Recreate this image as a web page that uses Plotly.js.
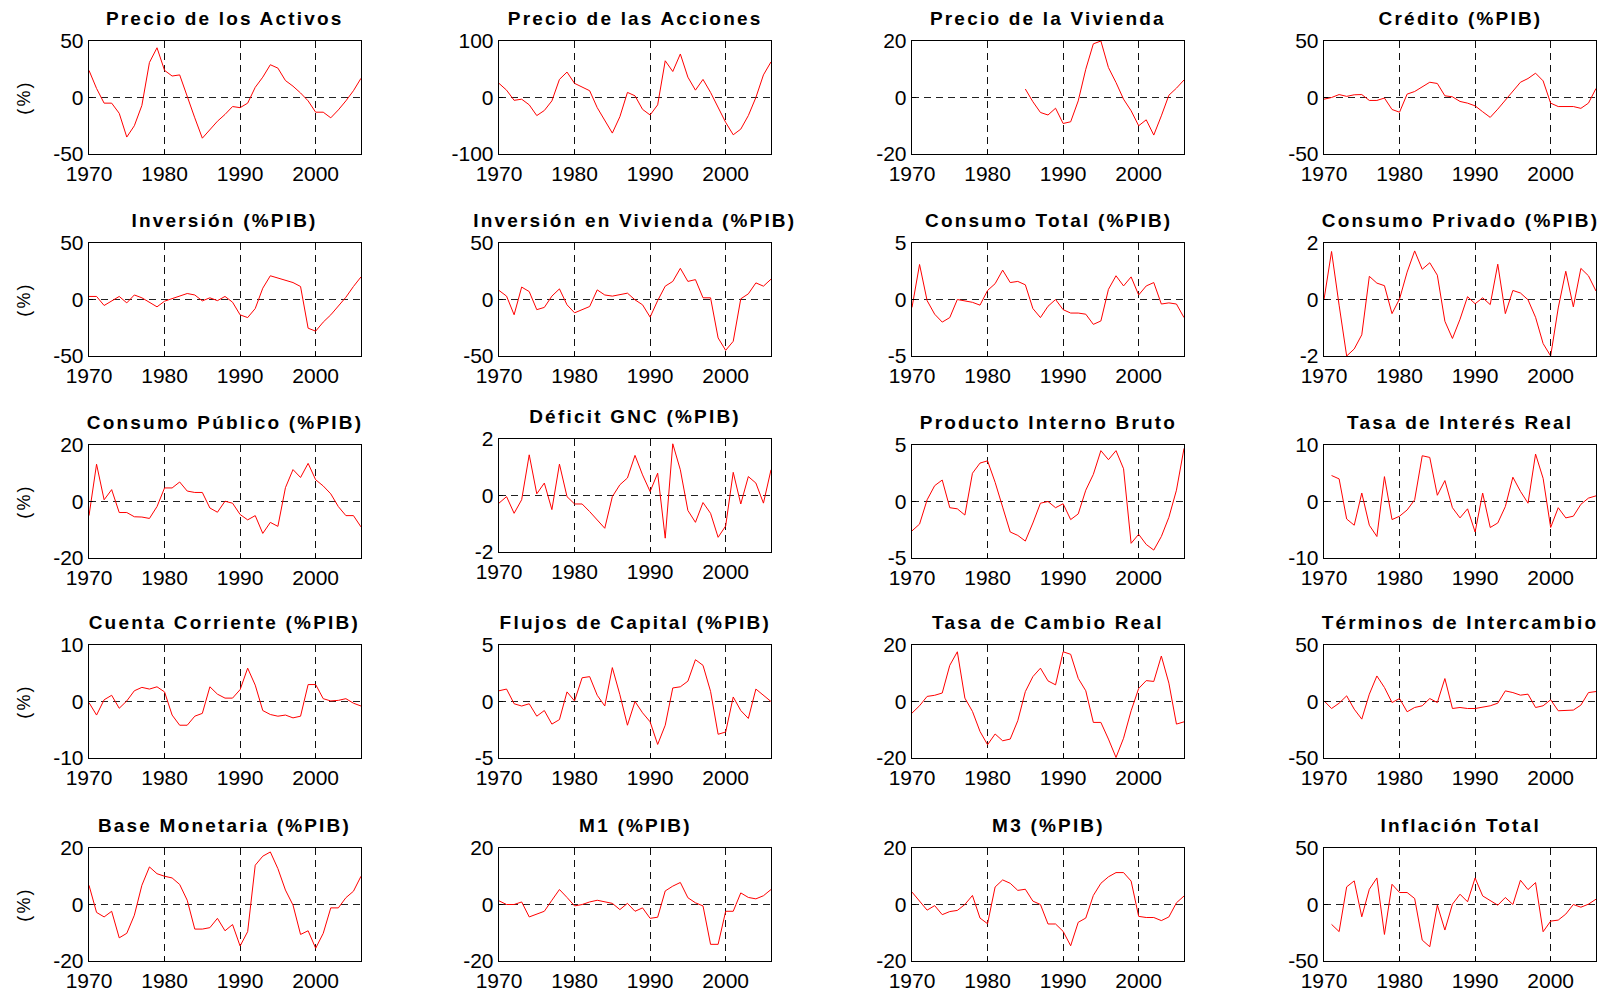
<!DOCTYPE html>
<html>
<head>
<meta charset="utf-8">
<script src="https://cdn.plot.ly/plotly-3.0.1.min.js"></script>
<style>
html,body{margin:0;padding:0;background:#fff;}
#chart{width:1610px;height:990px;}
#chart .annotation-text{letter-spacing:2.2px;}
</style>
</head>
<body>
<div id="chart"></div>
<script>
const years = [1970,1971,1972,1973,1974,1975,1976,1977,1978,1979,1980,1981,1982,1983,1984,1985,1986,1987,1988,1989,1990,1991,1992,1993,1994,1995,1996,1997,1998,1999,2000,2001,2002,2003,2004,2005,2006];

const precioActivos = [24,8,-5,-5,-14,-35,-25,-7,31,44, 24,19,20,0,-18,-36,-28,-21,-15,-8, -9,-5,9,18,29,26,15,10,4,-3, -13,-13,-18,-11,-3,6,17];
const precioAcciones = [25,13,-5,-3,-13,-32,-23,-6,32,45, 25,18,12,-18,-41,-63,-34,9,3,-21, -31,-13,65,46,77,36,13,32,9,-18, -44,-66,-56,-32,0,40,63];
const precioVivienda = [null,null,null,null,null,null,null,null,null,null, null,null,null,null,null,3,-1.5,-5.3,-6.2,-3.8, -9.2,-8.6,-1.2,10,19,20,10.6,5.3,-0.6,-4.7, -10,-7.9,-13.3,-6.5,0.8,3.3,6.2];
const credito = [-1.5,0,2.6,1,2.4,2.6,-2.6,-2.6,-0.5,-10.6, -13,3,5.3,9.4,13.5,12.4,1.5,0.6,-3.5,-5, -7.4,-12.6,-17.6,-10.3,-2.4,6.5,13.5,16.8,21.5,14.7, -5,-8,-8,-8,-9.6,-5,8];
const inversion = [2.7,2.7,-5.3,-1.5,2.7,-3,4,1.5,-2.7,-6.5, -1.5,0.6,3,5.3,4,-1.2,1.5,-1,2.7,-2.4, -13.6,-16,-8,10,21,19,17.5,15,11.5,-25.4, -28,-20,-13.6,-6,2,11.5,20];
const invVivienda = [8,3,-13.5,11,7,-9,-7,3,9.4,-4.7, -11.8,-9,-6.2,8.5,4,3,4,5.6,-0.3,-4.7, -15.6,-1,11.8,16,27.6,16,17.6,1.5,1.5,-34, -45,-37,0.6,5,14.7,11.8,18];
const consumoTotal = [-0.7,3.1,-0.1,-1.3,-2,-1.6,0,-0.1,-0.25,-0.5, 0.8,1.4,2.6,1.5,1.6,1.3,-0.8,-1.6,-0.6,0, -0.9,-1.2,-1.2,-1.3,-2.2,-1.9,0.9,2.1,1.2,2.0, 0.4,1.2,1.5,-0.4,-0.3,-0.4,-1.6];
const consumoPrivado = [0,1.7,-0.2,-2,-1.75,-1.25,0.82,0.58,0.49,-0.5, 0.02,0.97,1.72,1.07,1.3,0.86,-0.77,-1.38,-0.7,0.1, -0.15,0.06,-0.18,1.25,-0.5,0.32,0.23,-0.01,-0.63,-1.56, -2,-0.3,1.0,-0.26,1.1,0.84,0.3];
const consumoPublico = [-5,13.2,0.6,4.2,-3.9,-3.9,-5.4,-5.5,-6,-1.8, 4.8,4.8,6.9,3.7,3.2,3.2,-2.3,-3.8,0.1,-0.6, -4.6,-6.5,-5,-11.3,-7.4,-8.8,4.9,11.3,8.5,13.5, 7.7,5.5,2.7,-1.8,-5,-5,-9];
const deficitGNC = [-0.27,-0.04,-0.63,-0.15,1.44,0.06,0.44,-0.5,1.11,-0.04, -0.3,-0.3,-0.57,-0.86,-1.16,-0.04,0.38,0.62,1.42,0.73, 0.14,0.79,-1.51,1.83,0.91,-0.53,-0.95,-0.25,-0.63,-1.48, -1.08,0.82,-0.3,0.67,0.44,-0.27,0.91];
const pib = [-2.6,-2.0,0.15,1.4,1.9,-0.55,-0.65,-1.2,2.5,3.4, 3.6,1.7,-0.5,-2.7,-3.0,-3.5,-1.9,-0.15,0,-0.55, -0.2,-1.6,-1.1,1.0,2.4,4.5,3.7,4.5,2.9,-3.7, -2.9,-3.8,-4.3,-3.1,-1.4,1.0,4.7];
const tasaInteres = [null,4.6,4.0,-3.1,-4.2,1.5,-4.2,-6.2,4.4,-3.2, -2.6,-1.5,0.3,8.1,7.8,1.1,3.7,-1.1,-2.9,-1.3, -5.4,1.5,-4.6,-3.8,-0.9,4.3,1.8,-0.3,8.4,4.1, -4.6,-1.1,-2.9,-2.6,-0.5,0.6,1.0];
const cuentaCorriente = [-0.2,-2.4,0.3,1.1,-1.2,0.1,1.9,2.5,2.2,2.6, 1.7,-2.4,-4.2,-4.2,-2.6,-2.1,2.6,1.3,0.6,0.6, 2.1,5.9,2.9,-1.6,-2.3,-2.6,-2.4,-2.9,-2.6,3.0, 3.0,0.5,0.1,0.2,0.5,-0.3,-0.8];
const flujosCapital = [0.95,1.1,-0.2,-0.4,-0.2,-1.3,-0.8,-2.0,-1.6,0.85, 0.05,2.1,2.2,0.55,-0.4,3.0,0.6,-2.1,0,-1.0, -1.8,-3.8,-2.1,1.2,1.3,1.8,3.7,3.2,0.9,-2.9, -2.7,0.4,-0.8,-1.5,1.1,0.55,0];
const tasaCambio = [-4.1,-1.5,1.8,2.2,3.0,12.8,17.6,1.2,-3.5,-10.6, -15.3,-11.5,-13.9,-13.3,-6.8,3.5,8.8,11.8,7.3,5.9, 17.6,16.7,8.2,3.8,-7.4,-7.4,-13.3,-19.8,-13,-3.3, 4.6,7.4,7.1,16.1,6.5,-8.0,-7.2];
const terminos = [0.6,-6.2,-1.5,5,-6.8,-15.6,6.5,22.6,12.4,-0.9, 2.6,-9.1,-5.3,-3.8,2.6,-0.9,20.3,-6.2,-5.3,-6.2, -6.2,-5.3,-3.8,-1.5,9.4,7.9,5.6,6.5,-5.3,-3.8, 1.5,-8.2,-8.2,-7.6,-3.2,7.9,8.8];
const baseMonetaria = [6.8,-2.8,-4.4,-2.4,-11.8,-10.2,-3.8,6.8,13.3,10.9, 10,9.4,7.1,1.5,-8.7,-8.7,-8.2,-4.9,-9.3,-7.1, -14.7,-9.6,13.9,17.1,18.6,12.7,5.1,-0.2,-10.6,-9.3, -15.5,-10.2,-1.2,-1.2,2.4,4.7,10];
const m1 = [1.3,0,0,0.9,-4.4,-3.4,-2.4,1.5,5.3,2.5, -0.5,0,0.9,1.5,0.9,0.4,-1.8,0.4,-2.4,-1.2, -4.9,-4.5,4.8,6.5,7.8,2.4,0.6,-0.5,-14.1,-14.1, -2.4,-2.4,4.1,2.5,2,3.1,5.3];
const m3 = [4.4,1.2,-2,-0.4,-3.6,-2.5,-2.1,0,3.2,-4.8, -6.8,6.2,8.7,7.5,5,5.4,1.2,0,-6.9,-6.9, -9.5,-14.6,-6.3,-4.8,3.2,7.5,9.8,11.3,11.3,8.3, -4.2,-4.6,-4.6,-5.7,-4.4,0.6,3];
const inflacion = [null,-17.6,-24,15.6,20.9,-10.9,13.5,23.5,-26.5,17.9, 10.6,10.6,5.3,-31.5,-37.4,-0.6,-22.6,0.3,9.1,2.4, 23.5,7.6,3.8,-0.6,6.2,0,21.5,13.2,19.4,-24.1, -14.7,-13.8,-8.5,0,-2.4,0.3,4.7];

const panelTitles = ['Precio de los Activos','Precio de las Acciones','Precio de la Vivienda','Crédito (%PIB)',
  'Inversión (%PIB)','Inversión en Vivienda (%PIB)','Consumo Total (%PIB)','Consumo Privado (%PIB)',
  'Consumo Público (%PIB)','Déficit GNC (%PIB)','Producto Interno Bruto','Tasa de Interés Real',
  'Cuenta Corriente (%PIB)','Flujos de Capital (%PIB)','Tasa de Cambio Real','Términos de Intercambio',
  'Base Monetaria (%PIB)','M1 (%PIB)','M3 (%PIB)','Inflación Total'];
const panelSeries = [precioActivos,precioAcciones,precioVivienda,credito,
  inversion,invVivienda,consumoTotal,consumoPrivado,
  consumoPublico,deficitGNC,pib,tasaInteres,
  cuentaCorriente,flujosCapital,tasaCambio,terminos,
  baseMonetaria,m1,m3,inflacion];
const yLimits = [50,100,20,50, 50,50,5,2, 20,2,5,10, 10,5,20,50, 20,20,20,50];
const xTicks = [1970,1980,1990,2000];

const W = 1610, H = 990;
const colLeft = [89, 499, 912, 1324];
const colWidth = 272;
const rowTop = [41, 243, 445, 645, 848];
const rowHeight = 113;

const FONT = '"Liberation Sans", Arial, Helvetica, sans-serif';
const traces = [];
const layout = {
  width: W, height: H,
  margin: {l:0, r:0, t:0, b:0},
  paper_bgcolor: '#fff', plot_bgcolor: '#fff',
  showlegend: false,
  font: {family: FONT, color: '#000'},
  annotations: []
};

for (let i = 0; i < 20; i++) {
  const r = Math.floor(i / 4), c = i % 4;
  const n = i + 1;
  const top = rowTop[r] - (i === 9 ? 6 : 0);
  const left = colLeft[c];
  const xd = [left / W, (left + colWidth) / W];
  const yd = [1 - (top + rowHeight) / H, 1 - top / H];
  const L = yLimits[i];
  traces.push({
    x: years, y: panelSeries[i], type: 'scatter', mode: 'lines',
    line: {color: '#ff0000', width: 1}, connectgaps: false,
    xaxis: 'x' + n, yaxis: 'y' + n, hoverinfo: 'skip'
  });
  layout['xaxis' + n] = {
    domain: xd, anchor: 'y' + n, range: [1970, 2006],
    tickvals: xTicks, ticktext: xTicks.map(String),
    showgrid: true, gridcolor: '#111', griddash: '7px,5px', gridwidth: 1,
    zeroline: false, showline: true, mirror: true, linecolor: '#000', linewidth: 1.3,
    ticks: 'inside', ticklen: 4, tickcolor: '#000',
    tickfont: {size: 21, family: FONT, color: '#000'}, fixedrange: true
  };
  layout['yaxis' + n] = {
    domain: yd, anchor: 'x' + n, range: [-L, L],
    tickvals: [-L, 0, L], ticktext: [String(-L), '0', String(L)],
    showgrid: true, gridcolor: '#222', griddash: '7px,5px', gridwidth: 1,
    zeroline: false, showline: true, mirror: true, linecolor: '#000', linewidth: 1.3,
    ticks: 'inside', ticklen: 4, tickcolor: '#000',
    tickfont: {size: 21, family: FONT, color: '#000'}, fixedrange: true
  };
  layout.annotations.push({
    text: '<b>' + panelTitles[i] + '</b>',
    xref: 'paper', yref: 'paper',
    x: (left + colWidth / 2) / W, y: 1 - (top - 23) / H,
    xanchor: 'center', yanchor: 'middle', showarrow: false,
    font: {size: 19, family: FONT, color: '#000'}
  });
  if (c === 0) {
    layout.annotations.push({
      text: '(%)', xref: 'paper', yref: 'paper',
      x: 23 / W, y: 1 - (top + rowHeight / 2) / H,
      xanchor: 'center', yanchor: 'middle', textangle: -90, showarrow: false,
      font: {size: 18, family: FONT, color: '#000'}
    });
  }
}

Plotly.newPlot('chart', traces, layout, {staticPlot: true, displayModeBar: false});
</script>
</body>
</html>
